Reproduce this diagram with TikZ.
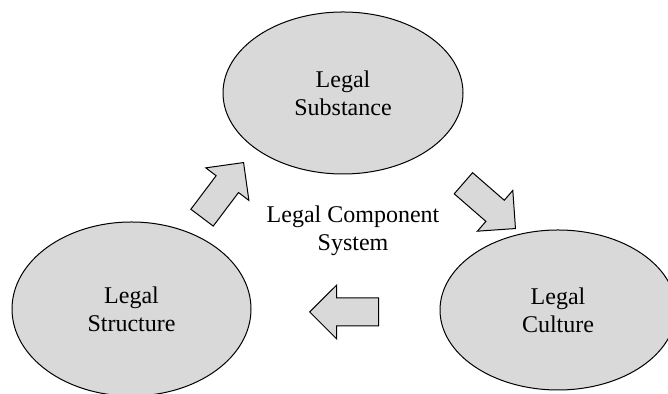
\documentclass[tikz,border=0pt]{standalone}
\usepackage{fontspec}
\setmainfont{Liberation Serif}
\usepackage{tikz}
\usetikzlibrary{shapes.geometric, shapes.arrows}
\definecolor{part_gray}{HTML}{d9d9d9}

\begin{document}
\begin{tikzpicture}[x=0.5pt, y=0.5pt,
  every node/.style={font=\fontsize{12}{14}\selectfont},
  part/.style={ellipse, draw=black, line width=0.5pt, fill=part_gray, inner sep=0pt, align=center},
  blockarrow/.style={single arrow, draw=black, line width=0.5pt, fill=part_gray,
    inner xsep=0pt, inner ysep=6.75pt, text height=0pt, text depth=0pt,
    single arrow head extend=6.5pt, minimum height=34.5pt, anchor=tip}]

  \useasboundingbox (0,0) rectangle (668,394);

  % the three components
  \node[part, minimum width=120pt, minimum height=81pt] (substance) at (343,301) {Legal\\Substance};
  \node[part, minimum width=119.5pt, minimum height=87pt] (structure) at (131.5,85) {Legal\\Structure};
  \node[part, minimum width=118pt, minimum height=80pt] (culture) at (558,84) {Legal\\Culture};

  \node[align=center] (system) at (353,163) {Legal Component\\System};

  % block arrows round the cycle
  \node[blockarrow, rotate=53] (upArrow) at (244,232) {};
  \node[blockarrow, rotate=-41] (downArrow) at (516,165) {};
  \node[blockarrow, rotate=180] (backArrow) at (309,82) {};

\end{tikzpicture}
\end{document}
